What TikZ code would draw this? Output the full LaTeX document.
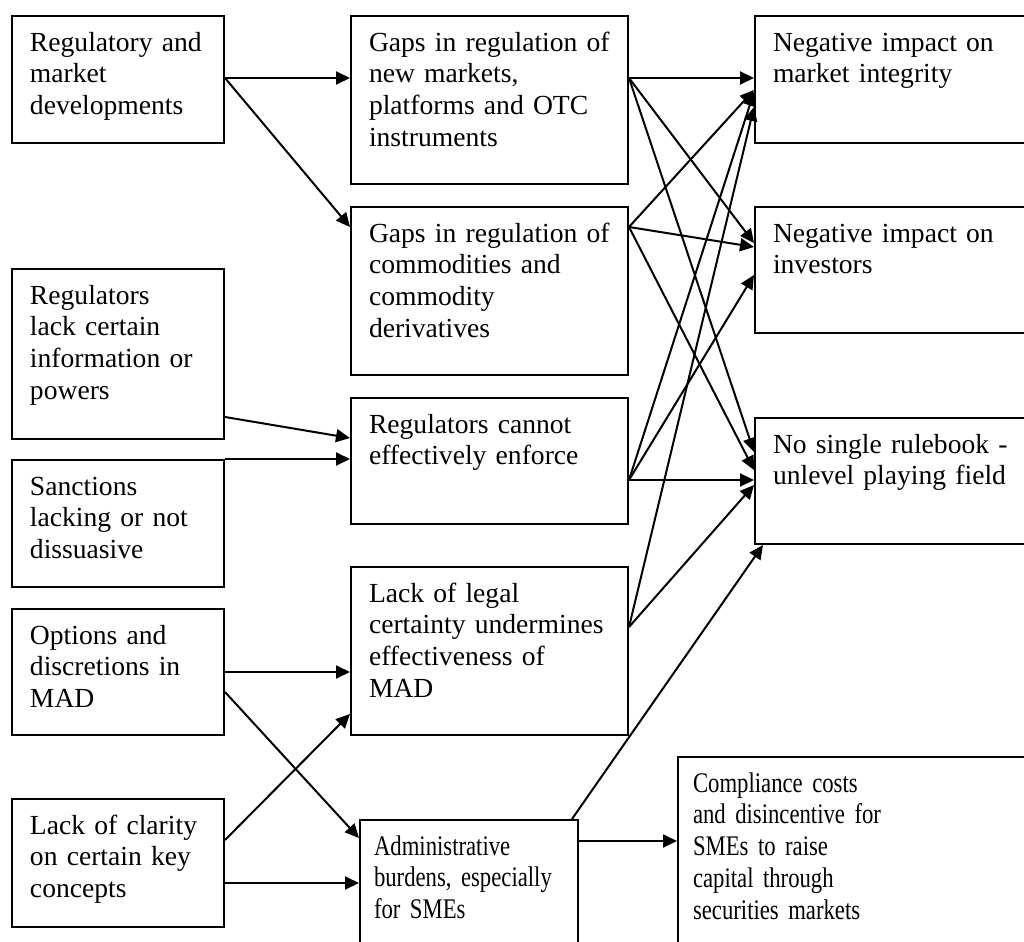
\documentclass[tikz,border=0pt]{standalone}
\usepackage{fontspec}
\setmainfont{Liberation Serif}
\newfontfamily\narrowserif[FakeStretch=0.8]{Liberation Serif}
\usetikzlibrary{arrows.meta}
\tikzset{>={Triangle[length=7pt,width=6.5pt]}}
\tikzstyle{causebox}=[draw,line width=1pt,anchor=north west,align=left,
  inner xsep=9pt,inner ysep=7.5pt,text height=10pt,
  font=\fontsize{13.8}{15.9}\selectfont]
\tikzstyle{narrowbox}=[causebox,inner xsep=7.5pt,
  font=\narrowserif\fontsize{14.2}{15.9}\selectfont]
\tikzstyle{link}=[->,line width=1pt]

\begin{document}
\begin{tikzpicture}[x=0.5pt,y=-0.5pt]
  \clip (0,0) rectangle (1024,942);

  % drivers
  \node[causebox,text width=88pt,text depth=38.5pt] (regdev) at (11,15) {Regulatory and\\market\\developments};
  \node[causebox,text width=88pt,text depth=60pt] (lackinfo) at (11,268) {Regulators\\lack certain\\information or\\powers};
  \node[causebox,text width=88pt,text depth=38.5pt] (sanctions) at (11,459) {Sanctions\\lacking or not\\dissuasive};
  \node[causebox,text width=88pt,text depth=38pt] (options) at (11,608) {Options and\\discretions in\\MAD};
  \node[causebox,text width=88pt,text depth=39pt] (clarity) at (11,798) {Lack of clarity\\on certain key\\concepts};

  % problems
  \node[causebox,text width=120.5pt,text depth=59pt] (gapsnew) at (350,15) {Gaps in regulation of\\new markets,\\platforms and OTC\\instruments};
  \node[causebox,text width=120.5pt,text depth=59pt] (gapscom) at (350,206) {Gaps in regulation of\\commodities and\\commodity\\derivatives};
  \node[causebox,text width=120.5pt,text depth=38pt] (enforce) at (350,397) {Regulators cannot\\effectively enforce};
  \node[causebox,text width=120.5pt,text depth=59pt] (legal) at (350,566) {Lack of legal\\certainty undermines\\effectiveness of\\MAD};
  \node[narrowbox,inner xsep=7pt,text width=95pt,text depth=45.5pt] (admin) at (359,819) {Administrative\\burdens, especially\\for SMEs};

  % consequences
  \node[causebox,text width=125pt,text depth=38.5pt] (integrity) at (754,15) {Negative impact on\\market integrity};
  \node[causebox,text width=125pt,text depth=38pt] (investors) at (754,206) {Negative impact on\\investors};
  \node[causebox,text width=125pt,text depth=38pt] (rulebook) at (754,417) {No single rulebook -\\unlevel playing field};
  \node[narrowbox,text width=166.5pt,text depth=77pt] (compliance) at (677,756) {Compliance costs\\and disincentive for\\SMEs to raise\\capital through\\securities markets};

  \draw[link] ([yshift=-31.5pt]regdev.north east) -- ([yshift=-31.5pt]gapsnew.north west);
  \draw[link] ([yshift=-31.5pt]regdev.north east) -- ([yshift=-10.5pt]gapscom.north west);
  \draw[link] ([yshift=-74.5pt]lackinfo.north east) -- ([yshift=-20.5pt]enforce.north west);
  \draw[link] (sanctions.north east) -- ([yshift=-31pt]enforce.north west);
  \draw[link] ([yshift=-32pt]options.north east) -- ([yshift=-53pt]legal.north west);
  \draw[link] ([yshift=-42pt]options.north east) -- ([yshift=-9.5pt]admin.north west);
  \draw[link] ([yshift=-21pt]clarity.north east) -- ([yshift=-74pt]legal.north west);
  \draw[link] ([yshift=-42.5pt]clarity.north east) -- ([yshift=-32pt]admin.north west);

  \draw[link] ([yshift=-31.5pt]gapsnew.north east) -- ([yshift=-31.5pt]integrity.north west);
  \draw[link] ([yshift=-31.5pt]gapsnew.north east) -- ([yshift=-18.5pt]investors.north west);
  \draw[link] ([yshift=-31.5pt]gapsnew.north east) -- ([yshift=-17.5pt]rulebook.north west);
  \draw[link] ([yshift=-10.5pt]gapscom.north east) -- ([yshift=-37.5pt]integrity.north west);
  \draw[link] ([yshift=-10.5pt]gapscom.north east) -- ([yshift=-20.5pt]investors.north west);
  \draw[link] ([yshift=-10.5pt]gapscom.north east) -- ([yshift=-26.5pt]rulebook.north west);
  \draw[link] ([yshift=-41.5pt]enforce.north east) -- ([yshift=-38.5pt]integrity.north west);
  \draw[link] ([yshift=-41.5pt]enforce.north east) -- ([yshift=-34.5pt]investors.north west);
  \draw[link] ([yshift=-41.5pt]enforce.north east) -- ([yshift=-31.5pt]rulebook.north west);
  \draw[link] ([yshift=-30.5pt]legal.north east) -- ([yshift=-46pt]integrity.north west);
  \draw[link] ([yshift=-30.5pt]legal.north east) -- ([yshift=-34pt]rulebook.north west);
  \draw[link] ([xshift=-3.5pt]admin.north east) -- ([xshift=4.5pt]rulebook.south west);
  \draw[link] ([yshift=-11pt]admin.north east) -- ([yshift=-42.5pt]compliance.north west);
\end{tikzpicture}
\end{document}
